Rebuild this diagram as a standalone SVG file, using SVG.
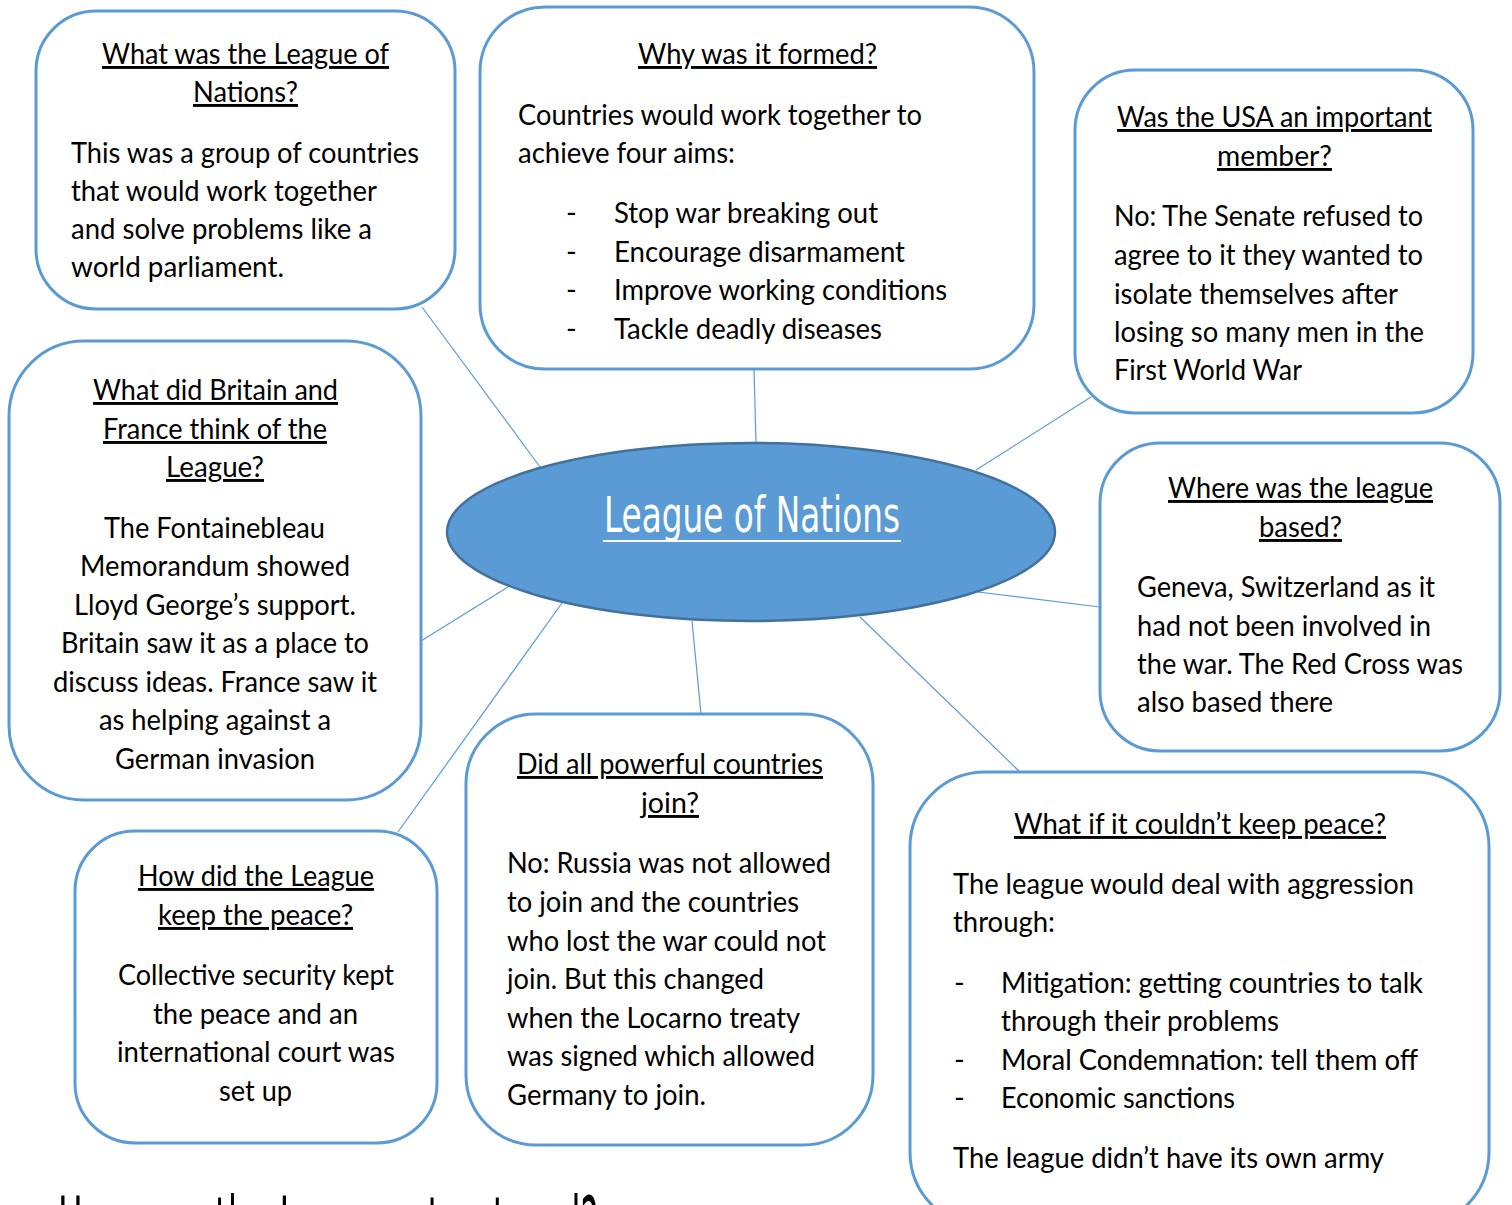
<svg xmlns="http://www.w3.org/2000/svg" width="1512" height="1205" viewBox="0 0 1512 1205">
<style>
.box{fill:#fff;stroke:#5B9BD5;stroke-width:3}
.t{font-family:Lato,"Liberation Sans",sans-serif;font-size:29px;fill:#000}
.h{text-decoration:underline}
.m{text-anchor:middle}
.con line{stroke:#5B9BD5;stroke-width:1.2}
</style>
<rect width="1512" height="1205" fill="#fff"/>
<g id="connectors" class="con">
<line x1="422" y1="307" x2="540" y2="467"/>
<line x1="754" y1="369" x2="756" y2="443"/>
<line x1="1091" y1="397" x2="976" y2="470"/>
<line x1="1100" y1="607" x2="978" y2="592"/>
<line x1="1020" y1="772" x2="860" y2="617"/>
<line x1="701" y1="714" x2="692" y2="621"/>
<line x1="398" y1="832" x2="562" y2="603"/>
<line x1="421" y1="641" x2="508" y2="587"/>
</g>
<g id="center">
<ellipse cx="751" cy="532" rx="304" ry="89" fill="#5B9BD5" stroke="#41719C" stroke-width="2.5"/>
<text x="604" y="532" font-family="'Liberation Sans Narrow','DejaVu Sans Condensed',sans-serif" font-size="50" fill="#fff" textLength="296" lengthAdjust="spacingAndGlyphs">League of Nations</text>
<line x1="603" y1="541" x2="901" y2="541" stroke="#fff" stroke-width="2"/>
</g>
<g id="what">
<rect class="box" x="36" y="11" width="419" height="298" rx="60"/>
<text class="t h" x="102" y="64" textLength="287" lengthAdjust="spacingAndGlyphs">What was the League of</text>
<text class="t h" x="193" y="102" textLength="105" lengthAdjust="spacingAndGlyphs">Nations?</text>
<text class="t" x="71" y="163" textLength="348" lengthAdjust="spacingAndGlyphs">This was a group of countries</text>
<text class="t" x="71" y="201" textLength="306" lengthAdjust="spacingAndGlyphs">that would work together</text>
<text class="t" x="71" y="239" textLength="301" lengthAdjust="spacingAndGlyphs">and solve problems like a</text>
<text class="t" x="71" y="277" textLength="213" lengthAdjust="spacingAndGlyphs">world parliament.</text>
</g>
<g id="why">
<rect class="box" x="480" y="7" width="554" height="362" rx="65"/>
<text class="t h" x="638" y="64" textLength="239" lengthAdjust="spacingAndGlyphs">Why was it formed?</text>
<text class="t" x="518" y="125" textLength="404" lengthAdjust="spacingAndGlyphs">Countries would work together to</text>
<text class="t" x="518" y="163" textLength="217" lengthAdjust="spacingAndGlyphs">achieve four aims:</text>
<text class="t" x="566" y="223">-</text>
<text class="t" x="614" y="223" textLength="264" lengthAdjust="spacingAndGlyphs">Stop war breaking out</text>
<text class="t" x="566" y="262">-</text>
<text class="t" x="614" y="262" textLength="291" lengthAdjust="spacingAndGlyphs">Encourage disarmament</text>
<text class="t" x="566" y="300">-</text>
<text class="t" x="614" y="300" textLength="333" lengthAdjust="spacingAndGlyphs">Improve working conditions</text>
<text class="t" x="566" y="339">-</text>
<text class="t" x="614" y="339" textLength="268" lengthAdjust="spacingAndGlyphs">Tackle deadly diseases</text>
</g>
<g id="usa">
<rect class="box" x="1075" y="70" width="398" height="343" rx="60"/>
<text class="t h" x="1117" y="127" textLength="315" lengthAdjust="spacingAndGlyphs">Was the USA an important</text>
<text class="t h" x="1217" y="166" textLength="115" lengthAdjust="spacingAndGlyphs">member?</text>
<text class="t" x="1114" y="226" textLength="309" lengthAdjust="spacingAndGlyphs">No: The Senate refused to</text>
<text class="t" x="1114" y="265" textLength="309" lengthAdjust="spacingAndGlyphs">agree to it they wanted to</text>
<text class="t" x="1114" y="304" textLength="284" lengthAdjust="spacingAndGlyphs">isolate themselves after</text>
<text class="t" x="1114" y="342" textLength="310" lengthAdjust="spacingAndGlyphs">losing so many men in the</text>
<text class="t" x="1114" y="380" textLength="188" lengthAdjust="spacingAndGlyphs">First World War</text>
</g>
<g id="britain">
<rect class="box" x="9" y="341" width="412" height="459" rx="75"/>
<text class="t h" x="93" y="400" textLength="245" lengthAdjust="spacingAndGlyphs">What did Britain and</text>
<text class="t h" x="103" y="439" textLength="224" lengthAdjust="spacingAndGlyphs">France think of the</text>
<text class="t h" x="166" y="477" textLength="98" lengthAdjust="spacingAndGlyphs">League?</text>
<text class="t" x="104" y="538" textLength="221" lengthAdjust="spacingAndGlyphs">The Fontainebleau</text>
<text class="t" x="80" y="576" textLength="270" lengthAdjust="spacingAndGlyphs">Memorandum showed</text>
<text class="t" x="74" y="615" textLength="282" lengthAdjust="spacingAndGlyphs">Lloyd George’s support.</text>
<text class="t" x="61" y="653" textLength="308" lengthAdjust="spacingAndGlyphs">Britain saw it as a place to</text>
<text class="t" x="53" y="692" textLength="324" lengthAdjust="spacingAndGlyphs">discuss ideas. France saw it</text>
<text class="t" x="99" y="730" textLength="232" lengthAdjust="spacingAndGlyphs">as helping against a</text>
<text class="t" x="115" y="769" textLength="200" lengthAdjust="spacingAndGlyphs">German invasion</text>
</g>
<g id="where">
<rect class="box" x="1100" y="443" width="400" height="308" rx="60"/>
<text class="t h" x="1168" y="498" textLength="265" lengthAdjust="spacingAndGlyphs">Where was the league</text>
<text class="t h" x="1259" y="537" textLength="83" lengthAdjust="spacingAndGlyphs">based?</text>
<text class="t" x="1137" y="597" textLength="298" lengthAdjust="spacingAndGlyphs">Geneva, Switzerland as it</text>
<text class="t" x="1137" y="636" textLength="294" lengthAdjust="spacingAndGlyphs">had not been involved in</text>
<text class="t" x="1137" y="674" textLength="326" lengthAdjust="spacingAndGlyphs">the war. The Red Cross was</text>
<text class="t" x="1137" y="712" textLength="196" lengthAdjust="spacingAndGlyphs">also based there</text>
</g>
<g id="how">
<rect class="box" x="75" y="831" width="362" height="312" rx="60"/>
<text class="t h" x="138" y="886" textLength="236" lengthAdjust="spacingAndGlyphs">How did the League</text>
<text class="t h" x="158" y="925" textLength="195" lengthAdjust="spacingAndGlyphs">keep the peace?</text>
<text class="t" x="118" y="985" textLength="276" lengthAdjust="spacingAndGlyphs">Collective security kept</text>
<text class="t" x="153" y="1024" textLength="205" lengthAdjust="spacingAndGlyphs">the peace and an</text>
<text class="t" x="117" y="1062" textLength="278" lengthAdjust="spacingAndGlyphs">international court was</text>
<text class="t" x="219" y="1101" textLength="73" lengthAdjust="spacingAndGlyphs">set up</text>
</g>
<g id="did">
<rect class="box" x="466" y="714" width="407" height="431" rx="70"/>
<text class="t h" x="517" y="774" textLength="306" lengthAdjust="spacingAndGlyphs">Did all powerful countries</text>
<text class="t h" x="641" y="813" textLength="58" lengthAdjust="spacingAndGlyphs">join?</text>
<text class="t" x="507" y="873" textLength="324" lengthAdjust="spacingAndGlyphs">No: Russia was not allowed</text>
<text class="t" x="507" y="912" textLength="292" lengthAdjust="spacingAndGlyphs">to join and the countries</text>
<text class="t" x="507" y="951" textLength="319" lengthAdjust="spacingAndGlyphs">who lost the war could not</text>
<text class="t" x="507" y="989" textLength="257" lengthAdjust="spacingAndGlyphs">join. But this changed</text>
<text class="t" x="507" y="1028" textLength="293" lengthAdjust="spacingAndGlyphs">when the Locarno treaty</text>
<text class="t" x="507" y="1066" textLength="308" lengthAdjust="spacingAndGlyphs">was signed which allowed</text>
<text class="t" x="507" y="1105" textLength="199" lengthAdjust="spacingAndGlyphs">Germany to join.</text>
</g>
<g id="whatif">
<rect class="box" x="910" y="772" width="579" height="455" rx="75"/>
<text class="t h" x="1014" y="834" textLength="372" lengthAdjust="spacingAndGlyphs">What if it couldn’t keep peace?</text>
<text class="t" x="953" y="894" textLength="461" lengthAdjust="spacingAndGlyphs">The league would deal with aggression</text>
<text class="t" x="953" y="932" textLength="102" lengthAdjust="spacingAndGlyphs">through:</text>
<text class="t" x="954" y="993">-</text>
<text class="t" x="1001" y="993" textLength="422" lengthAdjust="spacingAndGlyphs">Mitigation: getting countries to talk</text>
<text class="t" x="1001" y="1031" textLength="278" lengthAdjust="spacingAndGlyphs">through their problems</text>
<text class="t" x="954" y="1070">-</text>
<text class="t" x="1001" y="1070" textLength="417" lengthAdjust="spacingAndGlyphs">Moral Condemnation: tell them off</text>
<text class="t" x="954" y="1108">-</text>
<text class="t" x="1001" y="1108" textLength="234" lengthAdjust="spacingAndGlyphs">Economic sanctions</text>
<text class="t" x="953" y="1168" textLength="431" lengthAdjust="spacingAndGlyphs">The league didn’t have its own army</text>
</g>
<text id="bottom" x="58" y="1254" font-family="'Liberation Sans Narrow','DejaVu Sans Condensed',sans-serif" font-size="80" fill="#000" textLength="540" lengthAdjust="spacingAndGlyphs">How was the League structured?</text>
</svg>
